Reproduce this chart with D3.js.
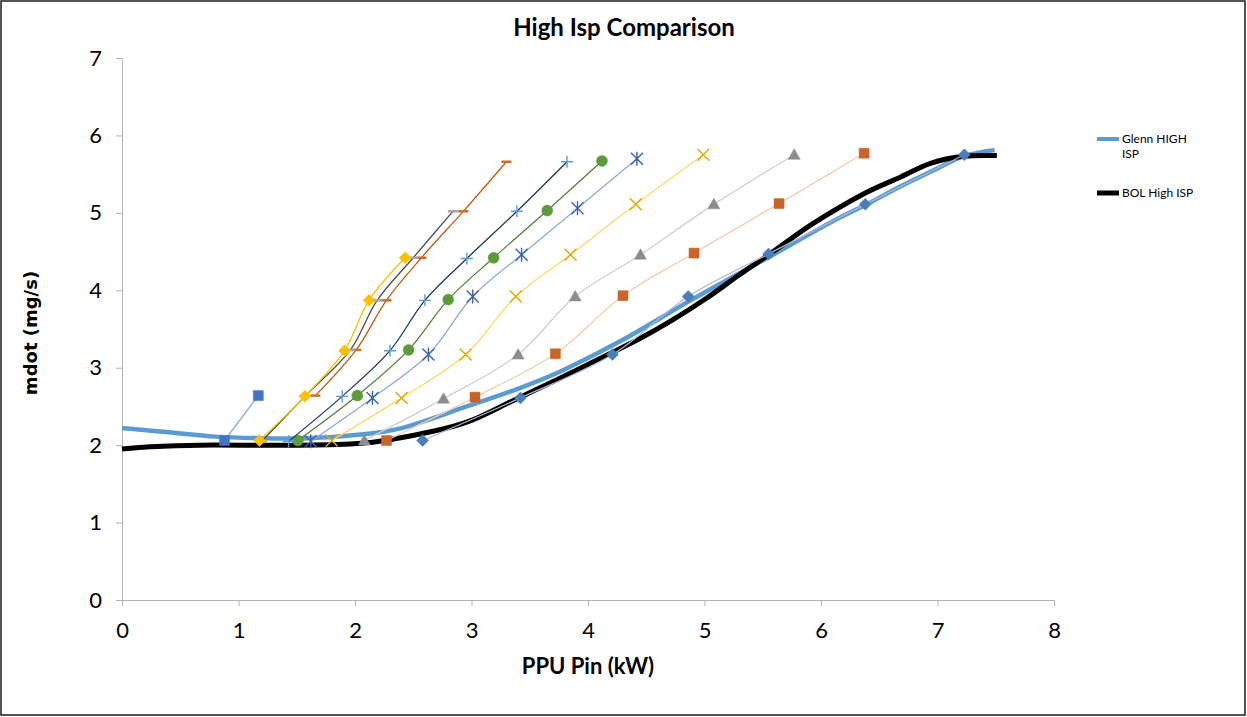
<html>
<head>
<style>
    body { margin: 0; background: #fff; }
    text { font-family: Lato, "Liberation Sans", sans-serif; }
</style>
</head>
<body>
<svg id="chart" width="1247" height="717"></svg>
<script src="https://d3js.org/d3.v7.min.js"></script>
<script>
    // axis ticks
    const xTicks = [0, 1, 2, 3, 4, 5, 6, 7, 8]
    const yTicks = [0, 1, 2, 3, 4, 5, 6, 7]

    // the two thick reference curves
    const glennX = [0, 0.38, 0.8, 1.2, 1.6, 2.0, 2.4, 2.96, 3.42, 3.79, 4.3, 4.88, 5.3, 5.59, 6.1, 6.38, 6.68, 6.94, 7.22, 7.49]
    const glennY = [2.22, 2.17, 2.11, 2.09, 2.09, 2.13, 2.22, 2.50, 2.74, 2.97, 3.36, 3.87, 4.22, 4.46, 4.89, 5.10, 5.34, 5.53, 5.73, 5.81]
    const bolX = [0, 0.24, 0.67, 1.5, 2.1, 2.67, 3.0, 3.39, 3.93, 4.45, 4.73, 5.02, 5.3, 5.59, 5.93, 6.36, 6.68, 6.94, 7.22, 7.51]
    const bolY = [1.95, 1.98, 2.0, 2.0, 2.03, 2.18, 2.32, 2.60, 2.99, 3.38, 3.62, 3.90, 4.20, 4.50, 4.86, 5.24, 5.46, 5.64, 5.73, 5.74]

    // thin marker series, x = PPU Pin (kW), y = mdot (mg/s)
    const diamondX = [2.58, 3.42, 4.21, 4.86, 5.55, 6.38, 7.23]
    const diamondY = [2.06, 2.61, 3.17, 3.92, 4.47, 5.11, 5.75]
    const squareX = [2.27, 3.03, 3.72, 4.30, 4.91, 5.64, 6.37]
    const squareY = [2.06, 2.62, 3.18, 3.93, 4.48, 5.12, 5.77]
    const triangleX = [2.08, 2.76, 3.40, 3.89, 4.45, 5.08, 5.77]
    const triangleY = [2.06, 2.60, 3.17, 3.92, 4.46, 5.11, 5.75]
    const crossX = [1.80, 2.40, 2.95, 3.38, 3.85, 4.41, 4.99]
    const crossY = [2.06, 2.61, 3.17, 3.92, 4.46, 5.11, 5.75]
    const starX = [1.62, 2.15, 2.63, 3.01, 3.43, 3.91, 4.42]
    const starY = [2.05, 2.61, 3.17, 3.92, 4.46, 5.06, 5.70]
    const circleX = [1.51, 2.02, 2.46, 2.80, 3.19, 3.65, 4.12]
    const circleY = [2.06, 2.64, 3.23, 3.88, 4.42, 5.03, 5.67]
    const plusX = [1.43, 1.89, 2.30, 2.60, 2.96, 3.39, 3.82]
    const plusY = [2.05, 2.63, 3.22, 3.87, 4.41, 5.02, 5.66]
    const orangeDashX = [1.66, 2.01, 2.27, 2.57, 2.93, 3.30]
    const orangeDashY = [2.64, 3.23, 3.87, 4.42, 5.02, 5.66]
    const grayDashX = [1.20, 1.57, 1.96, 2.19, 2.50, 2.84]
    const grayDashY = [2.05, 2.63, 3.23, 3.87, 4.42, 5.02]
    const goldDiamondX = [1.18, 1.57, 1.91, 2.12, 2.43]
    const goldDiamondY = [2.06, 2.63, 3.22, 3.87, 4.42]
    const blueSquareX = [0.88, 1.17]
    const blueSquareY = [2.06, 2.64]

    const legendNames = ["Glenn HIGH ISP", "BOL High ISP"]

    let svg = d3.select("#chart")
    let x = d3.scaleLinear().domain([0, 8]).range([122, 1054])
    let y = d3.scaleLinear().domain([0, 7]).range([600, 58])

    function pairs(xs, ys) {
        return xs.map((v, i) => [v, ys[i]])
    }

    // frame + title
    svg.append("rect").attr("x", 1).attr("y", 1).attr("width", 1244).attr("height", 714)
        .attr("fill", "#fff").attr("stroke", "#1a1a1a").attr("stroke-width", 1.5)
    svg.append("text").attr("x", 624).attr("y", 36).attr("text-anchor", "middle")
        .style("font-size", "24px").style("font-weight", "bold").text("High Isp Comparison")

    // axes
    let xAxis = d3.axisBottom(x).tickValues(xTicks).tickFormat(d3.format("d"))
        .tickSize(6).tickSizeOuter(0).tickPadding(16)
    let yAxis = d3.axisLeft(y).tickValues(yTicks).tickFormat(d3.format("d"))
        .tickSize(6).tickSizeOuter(0).tickPadding(14)
    let gx = svg.append("g").attr("transform", "translate(0,600)").call(xAxis)
    let gy = svg.append("g").attr("transform", "translate(122,0)").call(yAxis)
    for (let g of [gx, gy]) {
        g.selectAll("path, line").attr("stroke", "#b3b3b3")
        g.selectAll("text").style("font-size", "22px").attr("fill", "#000")
    }

    svg.append("text").attr("x", 588).attr("y", 674).attr("text-anchor", "middle")
        .style("font-size", "22px").style("font-weight", "bold").text("PPU Pin (kW)")
    svg.append("text").attr("transform", "translate(37,333) rotate(-90)").attr("text-anchor", "middle")
        .style("font-family", "'DejaVu Sans'")
        .style("font-size", "18px").style("font-weight", "bold").text("mdot (mg/s)")

    let smooth = d3.line().x(d => x(d[0])).y(d => y(d[1])).curve(d3.curveCardinal.tension(0))
    let thin = d3.line().x(d => x(d[0])).y(d => y(d[1])).curve(d3.curveCatmullRom.alpha(0.5))

    // thick curves first
    svg.append("path").attr("d", smooth(pairs(glennX, glennY)))
        .attr("fill", "none").attr("stroke", "#5b9bd5").attr("stroke-width", 4.5)
    svg.append("path").attr("d", smooth(pairs(bolX, bolY)))
        .attr("fill", "none").attr("stroke", "#000").attr("stroke-width", 5)

    // marker shapes
    const shapes = {
        diamond: "M0,-6L6,0L0,6L-6,0Z",
        square: "M-5,-5H5V5H-5Z",
        triangle: "M0,-6L6,4.5H-6Z",
        cross: "M-6,-6L6,6M6,-6L-6,6",
        star: "M-6,-6L6,6M6,-6L-6,6M0,-7V7",
        circle: "M5.5,0A5.5,5.5 0 1,1 -5.5,0A5.5,5.5 0 1,1 5.5,0Z",
        plus: "M-6,0H6M0,-6V6",
        dash: "M-5,0H5"
    }

    const thinSeries = [
        {xs: diamondX, ys: diamondY, line: "#a7b8d4", mark: "#4a7ebb", shape: "diamond", filled: true},
        {xs: squareX, ys: squareY, line: "#f8cbad", mark: "#cb6428", shape: "square", filled: true},
        {xs: triangleX, ys: triangleY, line: "#cfcfcf", mark: "#8c8c8c", shape: "triangle", filled: true},
        {xs: crossX, ys: crossY, line: "#ffd966", mark: "#e0a800", shape: "cross", filled: false},
        {xs: starX, ys: starY, line: "#8faadc", mark: "#3c62b0", shape: "star", filled: false},
        {xs: circleX, ys: circleY, line: "#548235", mark: "#5e9a3c", shape: "circle", filled: true},
        {xs: plusX, ys: plusY, line: "#1f3864", mark: "#5b9bd5", shape: "plus", filled: false},
        {xs: orangeDashX, ys: orangeDashY, line: "#c55a11", mark: "#d0692a", shape: "dash", filled: false},
        {xs: grayDashX, ys: grayDashY, line: "#4d4d4d", mark: "#a5a5a5", shape: "dash", filled: false},
        {xs: goldDiamondX, ys: goldDiamondY, line: "#ffc000", mark: "#ffc000", shape: "diamond", filled: true},
        {xs: blueSquareX, ys: blueSquareY, line: "#8faadc", mark: "#4472c4", shape: "square", filled: true}
    ]

    thinSeries.forEach(s => {
        let pts = pairs(s.xs, s.ys)
        svg.append("path").attr("d", thin(pts))
            .attr("fill", "none").attr("stroke", s.line).attr("stroke-width", 1.3)
        svg.append("g").selectAll("path")
            .data(pts)
            .join("path")
            .attr("transform", d => `translate(${x(d[0])},${y(d[1])})`)
            .attr("d", shapes[s.shape])
            .attr("fill", s.filled ? s.mark : "none")
            .attr("stroke", s.mark)
            .attr("stroke-width", s.filled ? 0.5 : (s.shape == "dash" ? 2.5 : 1.4))
    })

    // legend
    let legend = svg.append("g").attr("transform", "translate(1097,0)")
    legend.append("line").attr("x1", 0).attr("x2", 22).attr("y1", 139).attr("y2", 139)
        .attr("stroke", "#5b9bd5").attr("stroke-width", 4)
    legend.append("line").attr("x1", 0).attr("x2", 22).attr("y1", 193).attr("y2", 193)
        .attr("stroke", "#000").attr("stroke-width", 5)
    legend.append("text").attr("x", 25).attr("y", 143).style("font-size", "12px").text("Glenn HIGH")
    legend.append("text").attr("x", 25).attr("y", 158).style("font-size", "12px").text("ISP")
    legend.append("text").attr("x", 25).attr("y", 197).style("font-size", "12px").text(legendNames[1])
</script>
</body>
</html>
